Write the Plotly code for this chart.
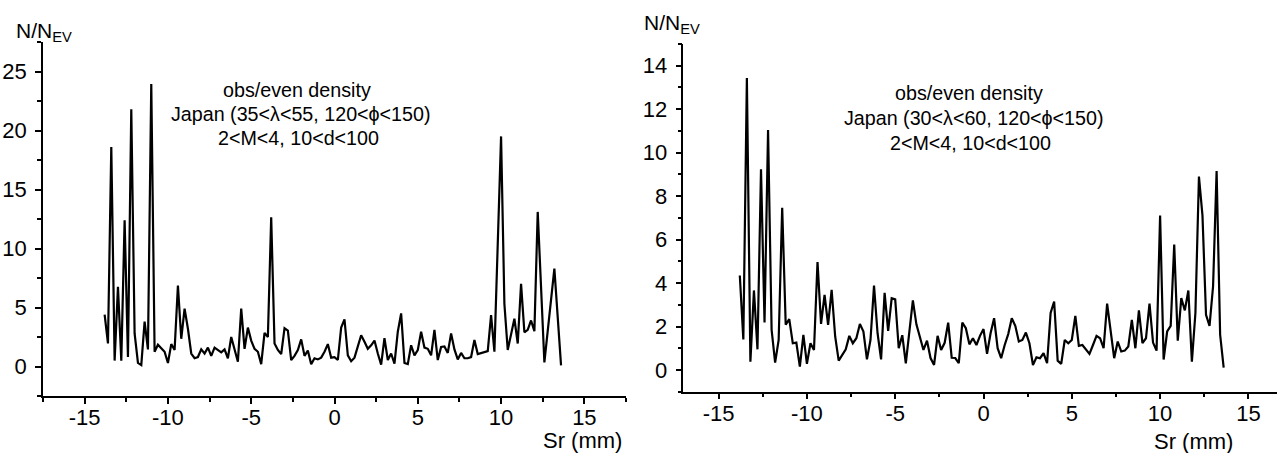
import plotly.graph_objects as go

# ---------------- data ----------------
sr_left = [
    -13.8, -13.6, -13.4, -13.2, -13.0, -12.8, -12.6, -12.4, -12.2, -12.0,
    -11.8, -11.6, -11.4, -11.2, -11.0, -10.8, -10.6, -10.4, -10.2, -10.0,
    -9.8, -9.6, -9.4, -9.2, -9.0, -8.8, -8.6, -8.4, -8.2, -8.0,
    -7.8, -7.6, -7.4, -7.2, -7.0, -6.8, -6.6, -6.4, -6.2, -6.0,
    -5.8, -5.6, -5.4, -5.2, -5.0, -4.8, -4.6, -4.4, -4.2, -4.0,
    -3.8, -3.6, -3.4, -3.2, -3.0, -2.8, -2.6, -2.4, -2.2, -2.0,
    -1.8, -1.6, -1.4, -1.2, -1.0, -0.8, -0.6, -0.4, -0.2, 0.0,
    0.2, 0.4, 0.6, 0.8, 1.0, 1.2, 1.4, 1.6, 1.8, 2.0,
    2.2, 2.4, 2.6, 2.8, 3.0, 3.2, 3.4, 3.6, 3.8, 4.0,
    4.2, 4.4, 4.6, 4.8, 5.0, 5.2, 5.4, 5.6, 5.8, 6.0,
    6.2, 6.4, 6.6, 6.8, 7.0, 7.2, 7.4, 7.6, 7.8, 8.0,
    8.2, 8.4, 8.6, 8.8, 9.0, 9.2, 9.4, 9.6, 10.0, 10.2,
    10.4, 10.8, 11.0, 11.2, 11.4, 11.6, 11.8, 12.0, 12.2, 12.6,
    13.2, 13.6,
]
n_left = [
    4.4, 1.95, 18.6, 0.5, 6.75, 0.5, 12.4, 0.8, 21.8, 2.8,
    0.3, 0.12, 3.8, 1.45, 23.95, 1.25, 1.85, 1.5, 1.25, 0.3,
    1.9, 1.4, 6.85, 2.35, 4.9, 3.2, 1.1, 0.7, 0.8, 1.45,
    1.1, 1.6, 0.9, 1.6, 1.4, 1.2, 1.45, 0.7, 2.5, 1.5,
    0.4, 4.9, 1.5, 3.3, 2.2, 1.5, 1.25, 0.2, 2.85, 2.5,
    12.65, 1.95, 1.4, 1.05, 3.25, 3.05, 0.55, 0.9, 1.4, 2.3,
    0.9, 1.35, 0.2, 0.7, 0.6, 0.75, 1.25, 1.9, 0.75, 0.8,
    0.55, 3.3, 4.0, 0.95, 0.45, 0.75, 1.8, 2.65, 2.1, 1.5,
    1.8, 2.2, 1.1, 0.15, 2.4, 0.55, 1.1, 0.25, 2.95, 4.5,
    0.3, 0.2, 1.8, 0.95, 1.4, 2.95, 1.6, 1.5, 0.95, 3.1,
    0.55, 1.65, 1.7, 1.15, 2.8, 1.45, 0.6, 1.15, 0.7, 0.7,
    0.8, 2.25, 1.05, 1.15, 1.2, 1.3, 4.35, 1.25, 19.5, 5.3,
    1.4, 4.05, 1.95, 7.0, 2.9, 3.1, 3.9, 3.0, 13.1, 0.35,
    8.3, 0.1,
]

sr_right = [
    -13.8, -13.6, -13.4, -13.2, -13.0, -12.8, -12.6, -12.4, -12.2, -12.0,
    -11.8, -11.6, -11.4, -11.2, -11.0, -10.8, -10.6, -10.4, -10.2, -10.0,
    -9.8, -9.6, -9.4, -9.2, -9.0, -8.8, -8.6, -8.4, -8.2, -8.0,
    -7.8, -7.6, -7.4, -7.2, -7.0, -6.8, -6.6, -6.4, -6.2, -6.0,
    -5.8, -5.6, -5.4, -5.2, -5.0, -4.8, -4.6, -4.4, -4.2, -4.0,
    -3.8, -3.6, -3.4, -3.2, -3.0, -2.8, -2.6, -2.4, -2.2, -2.0,
    -1.8, -1.6, -1.4, -1.2, -1.0, -0.8, -0.6, -0.4, -0.2, 0.0,
    0.2, 0.4, 0.6, 0.8, 1.0, 1.2, 1.4, 1.6, 1.8, 2.0,
    2.2, 2.4, 2.6, 2.8, 3.0, 3.2, 3.4, 3.6, 3.8, 4.0,
    4.2, 4.4, 4.6, 4.8, 5.0, 5.2, 5.4, 5.6, 5.8, 6.0,
    6.2, 6.4, 6.6, 6.8, 7.0, 7.2, 7.4, 7.6, 7.8, 8.0,
    8.2, 8.4, 8.6, 8.8, 9.0, 9.2, 9.4, 9.6, 9.8, 10.0,
    10.2, 10.4, 10.6, 10.8, 11.0, 11.2, 11.4, 11.6, 11.8, 12.0,
    12.2, 12.4, 12.6, 12.8, 13.0, 13.2, 13.4, 13.6,
]
n_right = [
    4.35, 1.4, 13.43, 0.38, 3.66, 0.95, 9.23, 2.18, 11.04, 1.85,
    0.34, 1.38, 7.46, 2.08, 2.34, 1.23, 1.26, 0.15, 1.62, 0.28,
    1.23, 0.92, 4.97, 2.12, 3.46, 2.08, 3.69, 1.54, 0.43, 0.69,
    0.95, 1.57, 1.23, 1.46, 2.12, 1.77, 0.49, 1.38, 3.88, 1.69,
    0.49, 3.55, 1.8, 3.3, 3.25, 1.0, 1.6, 0.3, 1.77, 3.2,
    2.1, 1.5, 0.92, 1.35, 0.55, 0.23, 1.57, 0.92, 1.25, 2.18,
    0.56, 0.55, 0.31, 2.18, 1.92, 1.18, 1.46, 1.15, 1.57, 1.88,
    0.74, 1.69, 2.38, 1.0, 0.54, 1.15, 1.65, 2.38, 2.03, 1.31,
    1.38, 1.72, 1.23, 0.23, 0.58, 0.54, 0.77, 0.31, 2.62, 3.15,
    0.43, 0.28, 1.38, 1.23, 1.38, 2.49, 1.11, 1.15, 0.92, 0.74,
    1.15, 1.57, 1.46, 1.0, 3.05, 1.77, 0.54, 1.31, 0.85, 0.89,
    1.08, 2.31, 1.0, 2.74, 1.23, 1.46, 3.05, 1.26, 0.89, 7.11,
    0.48, 1.77, 2.03, 5.77, 1.35, 3.31, 2.74, 3.66, 0.38, 2.62,
    8.9, 7.1, 2.54, 2.03, 3.85, 9.15, 1.62, 0.11,
]

x_tickvals = [-15, -10, -5, 0, 5, 10, 15]
x_ticktext = ["-15", "-10", "-5", "0", "5", "10", "15"]
x_minor = [-17.5, -12.5, -7.5, -2.5, 2.5, 7.5, 12.5, 17.5]
yl_tickvals = [0, 5, 10, 15, 20, 25]
yl_minor = [-2.5, 2.5, 7.5, 12.5, 17.5, 22.5, 27.5]
yr_tickvals = [0, 2, 4, 6, 8, 10, 12, 14]
yr_minor = [-1, 1, 3, 5, 7, 9, 11, 13, 15]

text_left = ["obs/even density", "Japan (35<λ<55, 120<ϕ<150)", "2<M<4, 10<d<100"]
text_right = ["obs/even density", "Japan (30<λ<60, 120<ϕ<150)", "2<M<4, 10<d<100"]

# ---------------- figure ----------------
W, H = 1277, 453
FONT = "Liberation Sans, Arial, sans-serif"


def fx(p):
    return p / W


def fy(p):
    return 1 - p / H


fig = go.Figure()
fig.add_trace(go.Scatter(x=sr_left, y=n_left, mode="lines",
                         line=dict(color="black", width=2.2), xaxis="x", yaxis="y",
                         showlegend=False))
fig.add_trace(go.Scatter(x=sr_right, y=n_right, mode="lines",
                         line=dict(color="black", width=2.2), xaxis="x2", yaxis="y2",
                         showlegend=False))

common = dict(showline=True, linecolor="black", linewidth=1.5, ticks="outside",
              ticklen=6, tickwidth=1.5, tickcolor="black", showgrid=False,
              zeroline=False, tickfont=dict(family=FONT, size=22, color="black"))

fig.update_layout(
    width=W, height=H, autosize=False,
    margin=dict(l=0, r=0, t=0, b=0),
    paper_bgcolor="white", plot_bgcolor="white",
    font=dict(family=FONT, color="black"),
    xaxis=dict(domain=[fx(43), fx(626)], range=[-17.5, 17.5], anchor="y",
               tickmode="array", tickvals=x_tickvals, ticktext=x_ticktext,
               minor=dict(tickmode="array", tickvals=x_minor, ticklen=4,
                          tickwidth=1.5, tickcolor="black", ticks="outside"),
               ticklabelstandoff=-5, **common),
    yaxis=dict(domain=[fy(396), fy(42)], range=[-2.5, 27.5], anchor="x",
               tickmode="array", tickvals=yl_tickvals,
               minor=dict(tickmode="array", tickvals=yl_minor, ticklen=4,
                          tickwidth=1.5, tickcolor="black", ticks="outside"),
               ticklabelstandoff=4, **common),
    xaxis2=dict(domain=[fx(683.3), 1.0], range=[-17, 16.62], anchor="y2",
                tickmode="array", tickvals=x_tickvals, ticktext=x_ticktext,
                minor=dict(tickmode="array", tickvals=x_minor, ticklen=4,
                           tickwidth=1.5, tickcolor="black", ticks="outside"),
                ticklabelstandoff=-5, **common),
    yaxis2=dict(domain=[fy(391.7), fy(44)], range=[-1, 15], anchor="x2",
                tickmode="array", tickvals=yr_tickvals,
                minor=dict(tickmode="array", tickvals=yr_minor, ticklen=4,
                           tickwidth=1.5, tickcolor="black", ticks="outside"),
                ticklabelstandoff=4, **common),
)

ann = []
# text blocks
for txt, cx, cy in zip(text_left, [296.5, 301, 298], [90, 114, 138]):
    ann.append(dict(text=txt, x=fx(cx), y=fy(cy), xref="paper", yref="paper",
                    xanchor="center", yanchor="middle", showarrow=False,
                    font=dict(family=FONT, size=19.7, color="black")))
for txt, cx, cy in zip(text_right, [969, 974, 970], [93, 118, 143]):
    ann.append(dict(text=txt, x=fx(cx), y=fy(cy), xref="paper", yref="paper",
                    xanchor="center", yanchor="middle", showarrow=False,
                    font=dict(family=FONT, size=19.7, color="black")))
# axis titles
for cx, cy in [(582, 440), (1193, 441)]:
    ann.append(dict(text="Sr (mm)", x=fx(cx), y=fy(cy), xref="paper", yref="paper",
                    xanchor="center", yanchor="middle", showarrow=False,
                    font=dict(family=FONT, size=22, color="black")))
for lx, cy in [(14, 32), (642, 24)]:
    ann.append(dict(text="N/N<sub>EV</sub>", x=fx(lx), y=fy(cy), xref="paper", yref="paper",
                    xanchor="left", yanchor="middle", showarrow=False,
                    font=dict(family=FONT, size=21, color="black")))
fig.update_layout(annotations=ann)

fig.write_html("out.html", config={"displayModeBar": False},
               post_script="document.body.style.margin='0px';document.body.style.overflow='hidden';")
